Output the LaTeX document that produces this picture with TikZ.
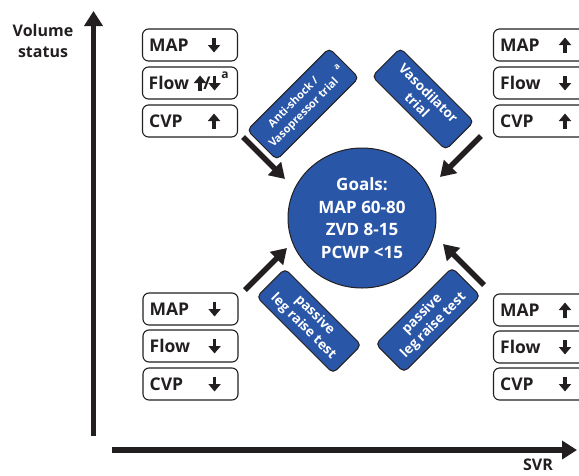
\documentclass[tikz,border=0pt]{standalone}
\usepackage{fontspec}
\setmainfont{Open Sans}
\usetikzlibrary{arrows.meta,shapes.geometric}
\definecolor{gblue}{RGB}{41,86,166}
\definecolor{ink}{RGB}{35,31,32}
\begin{document}
\begin{tikzpicture}[x=1pt,y=-1pt,
  vbox/.style={draw=ink, line width=1.1pt, rounded corners=6pt, minimum width=95pt, minimum height=32pt, inner sep=0pt},
  lbl/.style={font=\fontsize{17.5}{20}\selectfont\bfseries, text=ink, inner sep=0pt, anchor=west},
  barrow/.style={draw=ink, line width=3.4pt, -{Triangle[length=7.5pt,width=12pt]}},
  bigarrow/.style={draw=ink, line width=5.5pt, -{Triangle[length=15pt,width=18pt]}},
  tbox/.style={draw=ink, line width=1pt, fill=gblue, rounded corners=5pt, text=white, align=center, inner sep=0pt, font=\fontsize{13.5}{16}\selectfont\bfseries},
  axlbl/.style={font=\fontsize{16}{21}\selectfont\bfseries, text=ink, align=center, inner sep=0pt},
  goal/.style={ellipse, draw=ink, line width=1pt, fill=gblue, minimum width=148pt, minimum height=140pt, text=white, align=center, inner sep=0pt, font=\fontsize{17}{22.7}\selectfont\bfseries}
]
\useasboundingbox (0,0) rectangle (579,475);
\clip (0,0) rectangle (579,475);

% axes
\coordinate (vbot) at (93.5,436);
\coordinate (vtop) at (93.5,11);
\coordinate (hleft) at (112,450);
\coordinate (hright) at (577,450);
\draw[bigarrow] (vbot) -- (vtop);
\draw[bigarrow] (hleft) -- (hright);
\node[axlbl] (vlab) at (43,41) {Volume\\status};
\node[axlbl] (svr) at (538,465) {SVR};

% top-left boxes
\node[vbox] (tl1) at (190,45) {};
\node[vbox] (tl2) at (190,83) {};
\node[vbox] (tl3) at (190,121) {};
\node[lbl] (tl1t) at ([xshift=7pt]tl1.west) {MAP};
\node[lbl] (tl2t) at ([xshift=6.5pt]tl2.west) {Flow};
\node[lbl] (tl3t) at ([xshift=7pt]tl3.west) {CVP};
\draw[barrow] ([xshift=-24pt,yshift=7.5pt]tl1.east) -- ([xshift=-24pt,yshift=-7.5pt]tl1.east);
\draw[barrow] ([xshift=-38pt,yshift=-7.5pt]tl2.east) -- ([xshift=-38pt,yshift=7.5pt]tl2.east);
\node[lbl, anchor=center] (tl2s) at ([xshift=-31pt]tl2.east) {/};
\draw[barrow] ([xshift=-23.5pt,yshift=7.5pt]tl2.east) -- ([xshift=-23.5pt,yshift=-7.5pt]tl2.east);
\node[lbl, anchor=center, font=\fontsize{12}{12}\selectfont\bfseries] (tl2a) at ([xshift=-13pt,yshift=8pt]tl2.east) {a};
\draw[barrow] ([xshift=-24pt,yshift=-7.5pt]tl3.east) -- ([xshift=-24pt,yshift=7.5pt]tl3.east);

% top-right boxes
\node[vbox] (tr1) at (541,45) {};
\node[vbox] (tr2) at (541,83) {};
\node[vbox] (tr3) at (541,121) {};
\node[lbl] (tr1t) at ([xshift=7pt]tr1.west) {MAP};
\node[lbl] (tr2t) at ([xshift=7pt]tr2.west) {Flow};
\node[lbl] (tr3t) at ([xshift=7pt]tr3.west) {CVP};
\draw[barrow] ([xshift=24pt,yshift=-7.5pt]tr1.center) -- ([xshift=24pt,yshift=7.5pt]tr1.center);
\draw[barrow] ([xshift=24pt,yshift=7.5pt]tr2.center) -- ([xshift=24pt,yshift=-7.5pt]tr2.center);
\draw[barrow] ([xshift=24pt,yshift=-7.5pt]tr3.center) -- ([xshift=24pt,yshift=7.5pt]tr3.center);

% bottom-left boxes
\node[vbox] (bl1) at (190.5,309) {};
\node[vbox] (bl2) at (190.5,346) {};
\node[vbox] (bl3) at (190.5,384) {};
\node[lbl] (bl1t) at ([xshift=7pt]bl1.west) {MAP};
\node[lbl] (bl2t) at ([xshift=7pt]bl2.west) {Flow};
\node[lbl] (bl3t) at ([xshift=7pt]bl3.west) {CVP};
\draw[barrow] ([xshift=-24pt,yshift=7.5pt]bl1.east) -- ([xshift=-24pt,yshift=-7.5pt]bl1.east);
\draw[barrow] ([xshift=-24pt,yshift=7.5pt]bl2.east) -- ([xshift=-24pt,yshift=-7.5pt]bl2.east);
\draw[barrow] ([xshift=-24pt,yshift=7.5pt]bl3.east) -- ([xshift=-24pt,yshift=-7.5pt]bl3.east);

% bottom-right boxes
\node[vbox] (br1) at (541,310) {};
\node[vbox] (br2) at (541,347) {};
\node[vbox] (br3) at (541,384) {};
\node[lbl] (br1t) at ([xshift=7pt]br1.west) {MAP};
\node[lbl] (br2t) at ([xshift=7pt]br2.west) {Flow};
\node[lbl] (br3t) at ([xshift=7pt]br3.west) {CVP};
\draw[barrow] ([xshift=24pt,yshift=-7.5pt]br1.center) -- ([xshift=24pt,yshift=7.5pt]br1.center);
\draw[barrow] ([xshift=24pt,yshift=7.5pt]br2.center) -- ([xshift=24pt,yshift=-7.5pt]br2.center);
\draw[barrow] ([xshift=24pt,yshift=7.5pt]br3.center) -- ([xshift=24pt,yshift=-7.5pt]br3.center);

% goals
\node[goal] (goal) at (362,218) {Goals:\\MAP 60-80\\ZVD 8-15\\PCWP <15};

% trial boxes
\node[tbox, rotate=45, minimum width=116pt, minimum height=42pt, font=\fontsize{11}{14.5}\selectfont\bfseries] (anti) at (303,104) {};
\node[rotate=45, text=white, align=center, inner sep=0pt, font=\fontsize{11}{14.5}\selectfont\bfseries] (antit) at (299,108) {Anti-shock /\\Vasopressor trial};
\node[rotate=45, text=white, inner sep=0pt, font=\fontsize{8.5}{9}\selectfont\bfseries] (antia) at (337,67) {a};
\node[tbox, rotate=-45, minimum width=104pt, minimum height=40pt] (vaso) at (423,99) {Vasodilator\\trial};
\node[tbox, rotate=-45, minimum width=108pt, minimum height=40pt] (plrl) at (309,321) {passive\\leg raise test};
\node[tbox, rotate=45, minimum width=108pt, minimum height=40pt] (plrr) at (428,320) {passive\\leg raise test};

% arrows toward goals
\coordinate (a1s) at (243,137);
\coordinate (a1e) at (285,179);
\coordinate (a2s) at (481,136);
\coordinate (a2e) at (440,177);
\coordinate (a3s) at (245,290);
\coordinate (a3e) at (287,248);
\coordinate (a4s) at (484,285);
\coordinate (a4e) at (443,244);
\draw[bigarrow] (a1s) -- (a1e);
\draw[bigarrow] (a2s) -- (a2e);
\draw[bigarrow] (a3s) -- (a3e);
\draw[bigarrow] (a4s) -- (a4e);
\end{tikzpicture}
\end{document}
